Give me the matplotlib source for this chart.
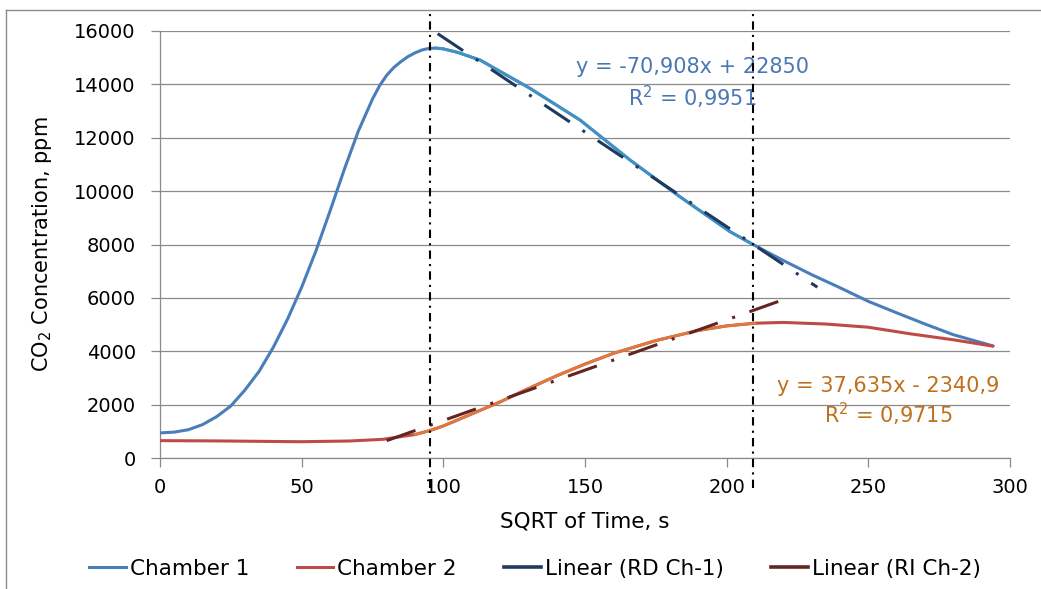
import numpy as np
import matplotlib
matplotlib.use('Agg')
import matplotlib.pyplot as plt
from matplotlib.lines import Line2D

# ── Datos ───────────────────────────────────────────────────────────────────
ch1_x = [0, 5, 10, 15, 20, 25, 30, 35, 40, 45, 50, 55, 60, 65, 70, 75, 77.5,
         80, 82.5, 85, 87.5, 90, 92.5, 95, 97.5, 100, 105, 113, 130.6, 148.3,
         165.9, 183.5, 201.2, 209.3, 220, 230, 240, 250, 260, 270, 280, 294]
ch1_y = [940, 970, 1060, 1250, 1550, 1950, 2550, 3250, 4150, 5200, 6400,
         7750, 9250, 10800, 12250, 13450, 13950, 14340, 14630, 14850, 15040,
         15180, 15290, 15350, 15360, 15330, 15200, 14910, 13850, 12660,
         11165, 9790, 8480, 8000, 7400, 6870, 6380, 5870, 5440, 5020, 4620,
         4200]

ch2_x = [0, 20, 49.4, 67, 78.7, 90, 95, 100, 110, 120, 130, 140, 150, 160,
         175, 190, 200, 210, 220, 235, 250, 265, 280, 294]
ch2_y = [650, 640, 610, 637, 700, 880, 1020, 1200, 1650, 2100, 2600, 3080,
         3520, 3920, 4400, 4780, 4950, 5050, 5080, 5020, 4900, 4650, 4430,
         4190]

# tramos ajustados (resaltados en el gráfico)
fit1_range = (97, 210)
fit2_range = (80, 210)

# líneas de tendencia (extremos)
rd_x = [98, 232]
rd_y = [15900, 6400]
ri_x = [80, 221]
ri_y = [650, 5970]

# líneas verticales de referencia
vlines_x = [95.3, 209.4]

eq1 = ['y = -70,908x + 22850', 'R$^2$ = 0,9951']
eq2 = ['y = 37,635x - 2340,9', 'R$^2$ = 0,9715']

C_CH1 = '#4a7ebb'
C_CH1_FIT = '#3f92c4'
C_CH2 = '#be4b48'
C_CH2_FIT = '#e07a3c'
C_RD = '#1f3a5c'
C_RI = '#632523'
C_GRID = '#8a8a8a'

plt.rcParams['font.family'] = ['DejaVu Sans']

fig = plt.figure(figsize=(10.41, 5.89), dpi=100)
W, H = 1041, 589
ax = fig.add_axes([160 / W, 1 - 458 / H, 850 / W, 427 / H])

ch1_x = np.array(ch1_x); ch1_y = np.array(ch1_y)
ch2_x = np.array(ch2_x); ch2_y = np.array(ch2_y)

ax.plot(ch1_x, ch1_y, color=C_CH1, lw=2.2, solid_capstyle='round',
        solid_joinstyle='round', zorder=3)
ax.plot(ch2_x, ch2_y, color=C_CH2, lw=2.2, solid_capstyle='round',
        solid_joinstyle='round', zorder=3)

m1 = (ch1_x >= fit1_range[0]) & (ch1_x <= fit1_range[1])
m2 = (ch2_x >= fit2_range[0]) & (ch2_x <= fit2_range[1])
ax.plot(ch1_x[m1], ch1_y[m1], color=C_CH1_FIT, lw=2.0, zorder=4)
ax.plot(ch2_x[m2], ch2_y[m2], color=C_CH2_FIT, lw=2.0, zorder=4)

ax.plot(rd_x, rd_y, color=C_RD, lw=2.2, ls=(0, (10, 5, 1, 5)),
        dash_capstyle='butt', zorder=5)
ax.plot(ri_x, ri_y, color=C_RI, lw=2.2, ls=(0, (10, 5, 1, 5)),
        dash_capstyle='butt', zorder=5)

for xv in vlines_x:
    ax.axvline(xv, ymin=-0.07, ymax=1.044, color='black', lw=1.5,
               ls=(0, (4, 2.5, 1, 2.5)), clip_on=False, zorder=6)

ax.set_xlim(0, 300)
ax.set_ylim(0, 16000)
ax.set_xticks(np.arange(0, 301, 50))
ax.set_yticks(np.arange(0, 16001, 2000))
ax.yaxis.grid(True, color=C_GRID, lw=0.9)
ax.set_axisbelow(True)

for s in ['top', 'right']:
    ax.spines[s].set_visible(False)
for s in ['left', 'bottom']:
    ax.spines[s].set_color(C_GRID)
    ax.spines[s].set_linewidth(0.9)
ax.tick_params(axis='both', colors=C_GRID, length=6.5, width=0.9,
               labelcolor='black', labelsize=14)
ax.tick_params(axis='y', pad=11)
ax.tick_params(axis='x', pad=8)

ax.set_xlabel('SQRT of Time, s', fontsize=15.5)
ax.set_ylabel('CO$_2$ Concentration, ppm', fontsize=15)
ax.yaxis.set_label_coords(-106 / 850, 0.5)
ax.xaxis.set_label_coords(0.5, -54 / 427)

# ecuaciones de ajuste
ax.text(188, 16000 - (67 - 31) / 0.02669, eq1[0], color='#4a78b4',
        fontsize=15, ha='center', va='center')
ax.text(188, 16000 - (97 - 31) / 0.02669, eq1[1], color='#4a78b4',
        fontsize=15, ha='center', va='center')
ax.text(257, 16000 - (386 - 31) / 0.02669, eq2[0], color='#c0701c',
        fontsize=15, ha='center', va='center')
ax.text(257, 16000 - (414 - 31) / 0.02669, eq2[1], color='#c0701c',
        fontsize=15, ha='center', va='center')

handles = [Line2D([], [], color=C_CH1, lw=2.2),
           Line2D([], [], color=C_CH2, lw=2.2),
           Line2D([], [], color=C_RD, lw=2.6),
           Line2D([], [], color=C_RI, lw=2.6)]
labels = ['Chamber 1', 'Chamber 2', 'Linear (RD Ch-1)', 'Linear (RI Ch-2)']
fig.legend(handles, labels, loc='center', bbox_to_anchor=(0.514, 1 - 569 / H),
           ncol=4, frameon=False, fontsize=15.5, handlelength=1.7,
           handletextpad=0.2, columnspacing=2.2)

# marco exterior del gráfico
fig.add_artist(Line2D([6 / W, 6 / W], [0, 1 - 10 / H], color='#8c8c8c',
                      lw=1.0, transform=fig.transFigure))
fig.add_artist(Line2D([6 / W, 1], [1 - 10 / H, 1 - 10 / H], color='#8c8c8c',
                      lw=1.0, transform=fig.transFigure))

fig.savefig('out.png', dpi=100)
